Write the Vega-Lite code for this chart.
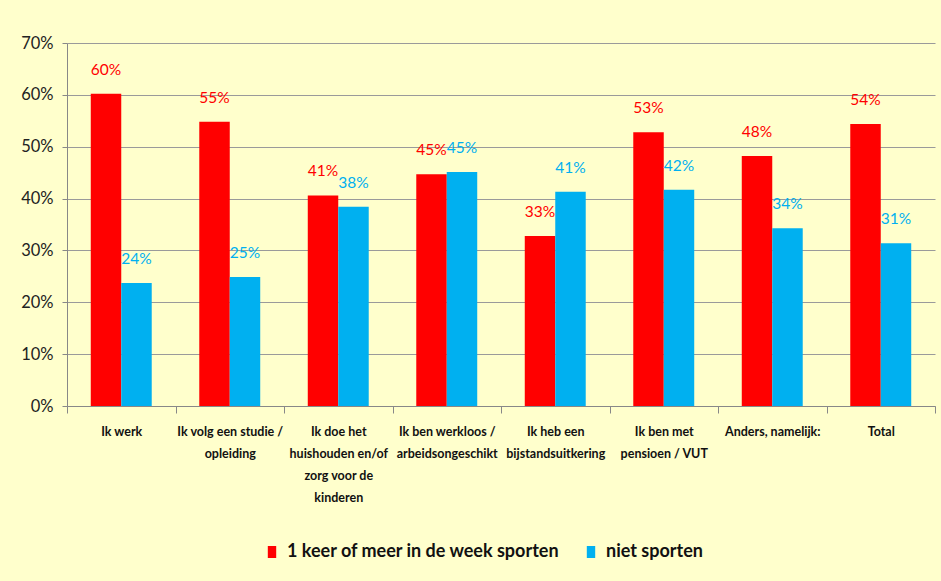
{
  "$schema": "https://vega.github.io/schema/vega-lite/v6.json",
  "width": 868,
  "height": 363,
  "autosize": {"type": "none"},
  "padding": {"left": 67, "top": 43, "right": 6, "bottom": 175},
  "background": "#FFFFCC",
  "config": {
    "font": "Lato, sans-serif",
    "view": {"stroke": null}
  },
  "data": {
    "values": [
      {"status": "Ik werk", "groep": "1 keer of meer in de week sporten", "aandeel": 0.602},
      {"status": "Ik werk", "groep": "niet sporten", "aandeel": 0.237},
      {"status": "Ik volg een studie / opleiding", "groep": "1 keer of meer in de week sporten", "aandeel": 0.548},
      {"status": "Ik volg een studie / opleiding", "groep": "niet sporten", "aandeel": 0.249},
      {"status": "Ik doe het huishouden en/of zorg voor de kinderen", "groep": "1 keer of meer in de week sporten", "aandeel": 0.406},
      {"status": "Ik doe het huishouden en/of zorg voor de kinderen", "groep": "niet sporten", "aandeel": 0.384},
      {"status": "Ik ben werkloos / arbeidsongeschikt", "groep": "1 keer of meer in de week sporten", "aandeel": 0.447},
      {"status": "Ik ben werkloos / arbeidsongeschikt", "groep": "niet sporten", "aandeel": 0.451},
      {"status": "Ik heb een bijstandsuitkering", "groep": "1 keer of meer in de week sporten", "aandeel": 0.328},
      {"status": "Ik heb een bijstandsuitkering", "groep": "niet sporten", "aandeel": 0.413},
      {"status": "Ik ben met pensioen / VUT", "groep": "1 keer of meer in de week sporten", "aandeel": 0.528},
      {"status": "Ik ben met pensioen / VUT", "groep": "niet sporten", "aandeel": 0.417},
      {"status": "Anders, namelijk:", "groep": "1 keer of meer in de week sporten", "aandeel": 0.482},
      {"status": "Anders, namelijk:", "groep": "niet sporten", "aandeel": 0.343},
      {"status": "Total", "groep": "1 keer of meer in de week sporten", "aandeel": 0.544},
      {"status": "Total", "groep": "niet sporten", "aandeel": 0.314}
    ]
  },
  "encoding": {
    "x": {
      "field": "status",
      "type": "nominal",
      "sort": null,
      "scale": {"paddingInner": 0, "paddingOuter": 0},
      "axis": {
        "title": null,
        "labelAngle": 0,
        "tickBand": "extent",
        "tickSize": 7,
        "tickColor": "#888888",
        "domainColor": "#888888",
        "labelFontWeight": "bold",
        "labelFontSize": 12.5,
        "labelColor": "#111111",
        "labelLineHeight": 22,
        "labelPadding": 12,
        "labelLimit": 0,
        "labelOverlap": false,
        "labelExpr": "({'Ik volg een studie / opleiding': ['Ik volg een studie /', 'opleiding'], 'Ik doe het huishouden en/of zorg voor de kinderen': ['Ik doe het', 'huishouden en/of', 'zorg voor de', 'kinderen'], 'Ik ben werkloos / arbeidsongeschikt': ['Ik ben werkloos /', 'arbeidsongeschikt'], 'Ik heb een bijstandsuitkering': ['Ik heb een', 'bijstandsuitkering'], 'Ik ben met pensioen / VUT': ['Ik ben met', 'pensioen / VUT']})[datum.label] || datum.label"
      }
    },
    "xOffset": {
      "field": "groep",
      "type": "nominal",
      "sort": ["1 keer of meer in de week sporten", "niet sporten"],
      "scale": {"paddingInner": 0, "paddingOuter": 0.78}
    },
    "y": {
      "field": "aandeel",
      "type": "quantitative",
      "scale": {"domain": [0, 0.7], "nice": false},
      "axis": {
        "title": null,
        "values": [0, 0.1, 0.2, 0.3, 0.4, 0.5, 0.6, 0.7],
        "format": ".0%",
        "grid": true,
        "gridColor": "#9A9A9A",
        "gridWidth": 1.2,
        "domainColor": "#888888",
        "tickColor": "#888888",
        "tickSize": 5,
        "labelFontSize": 16.5,
        "labelColor": "#222222",
        "labelPadding": 9
      }
    },
    "color": {
      "field": "groep",
      "type": "nominal",
      "sort": ["1 keer of meer in de week sporten", "niet sporten"],
      "scale": {"range": ["#FF0000", "#00B0F0"]},
      "legend": {
        "title": null,
        "orient": "none",
        "legendX": 196,
        "legendY": 500,
        "direction": "horizontal",
        "labelFontSize": 18,
        "labelFontWeight": "bold",
        "labelColor": "#111111",
        "labelLimit": 0,
        "symbolType": "M-0.7,-1H0.7V1H-0.7Z",
        "symbolSize": 144,
        "symbolStrokeWidth": 0,
        "labelOffset": 6,
        "columnPadding": 22
      }
    }
  },
  "layer": [
    {"mark": {"type": "bar"}},
    {
      "mark": {"type": "text", "baseline": "middle", "dy": -24, "fontSize": 15.5},
      "encoding": {"text": {"field": "aandeel", "type": "quantitative", "format": ".0%"}}
    }
  ]
}
